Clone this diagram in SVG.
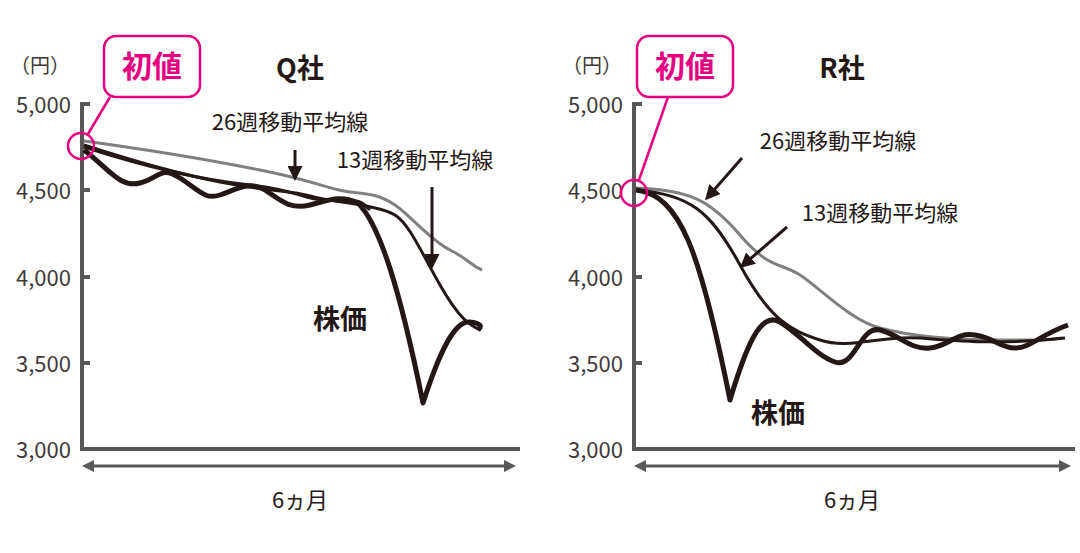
<svg xmlns="http://www.w3.org/2000/svg" width="1080" height="553" viewBox="0 0 1080 553">
<style>
text{font-family:"Noto Sans CJK JP","Noto Sans",sans-serif;fill:#231815}
.tick{font-size:22px;fill:#3e3a39;text-anchor:end}
.lbl{font-size:22px}
.big{font-size:27px;font-weight:bold}
.pk{font-size:30px;font-weight:bold;fill:#e4007f}
.axis{stroke:#595757;stroke-width:4;fill:none}
.g{stroke:#808080;stroke-width:3;fill:none}
.m{stroke:#231815;stroke-width:3;fill:none}
.p{stroke:#231815;stroke-width:5;fill:none;stroke-linejoin:round}
.pink{stroke:#e4007f;stroke-width:2.5;fill:none}
</style>
<defs>
<marker id="ah" viewBox="0 0 10 10" refX="8" refY="5" markerWidth="5" markerHeight="5" orient="auto"><path d="M0,0L10,5L0,10z" fill="#231815"/></marker>
<marker id="ga" viewBox="0 0 10 10" refX="5" refY="5" markerWidth="4" markerHeight="4" orient="auto-start-reverse"><path d="M0,0L10,5L0,10z" fill="#595757"/></marker>
</defs>
<g id="chartQ">
<text x="70" y="73" class="tick" style="font-size:20px">（円）</text>
<text x="71" y="113" class="tick">5,000</text>
<text x="71" y="199" class="tick">4,500</text>
<text x="71" y="286" class="tick">4,000</text>
<text x="71" y="372" class="tick">3,500</text>
<text x="71" y="458" class="tick">3,000</text>
<path class="axis" d="M90,104H82V449H520M82,190H90M82,277H90M82,363H90"/>
<path d="M88,466H510" stroke="#595757" stroke-width="3" marker-start="url(#ga)" marker-end="url(#ga)"/>
<text x="300" y="508" class="lbl" text-anchor="middle">6ヵ月</text>
<text x="300" y="78" class="big" text-anchor="middle">Q社</text>
<path class="g" d="M84,141C150,150 200,158 260,170S330,190 350,192S380,195 395,205S430,240 450,250S470,265 482,270"/>
<path class="m" d="M84,145C130,160 170,172 220,182S290,190 310,196S380,205 395,215S420,250 440,285S470,325 480,330"/>
<path class="m" d="M84,147C140,165 200,180 250,185S300,200 330,200S360,200 370,210"/>
<path class="p" d="M84,150C110,170 120,188 140,183S160,165 180,178S205,200 220,195S250,180 265,190S290,210 310,205S340,195 358,203C380,225 400,290 423,403C440,350 455,320 470,322S480,328 478,330"/>
<path d="M295,150V178" stroke="#231815" stroke-width="3" marker-end="url(#ah)"/>
<path d="M432,187V266" stroke="#231815" stroke-width="3" marker-end="url(#ah)"/>
<text x="290" y="130" class="lbl" text-anchor="middle">26週移動平均線</text>
<text x="415" y="168" class="lbl" text-anchor="middle">13週移動平均線</text>
<text x="340" y="329" class="big" text-anchor="middle">株価</text>
<rect x="104" y="36" width="96" height="61" rx="12" class="pink"/>
<text x="152" y="77" class="pk" text-anchor="middle">初値</text>
<circle cx="81" cy="146" r="13" class="pink"/>
<path d="M110,97L88,134" class="pink"/>
</g>
<g id="chartR">
<text x="622" y="73" class="tick" style="font-size:20px">（円）</text>
<text x="623" y="113" class="tick">5,000</text>
<text x="623" y="199" class="tick">4,500</text>
<text x="623" y="286" class="tick">4,000</text>
<text x="623" y="372" class="tick">3,500</text>
<text x="623" y="458" class="tick">3,000</text>
<path class="axis" d="M642,104H634V449H1075M634,190H642M634,277H642M634,363H642"/>
<path d="M640,466H1065" stroke="#595757" stroke-width="3" marker-start="url(#ga)" marker-end="url(#ga)"/>
<text x="852" y="508" class="lbl" text-anchor="middle">6ヵ月</text>
<text x="842" y="78" class="big" text-anchor="middle">R社</text>
<path class="g" d="M636,188C690,190 710,200 740,235S780,262 800,275S850,320 880,328S950,340 1000,340S1050,340 1062,338"/>
<path class="m" d="M636,190C690,195 710,210 740,265S790,330 820,340S880,335 920,338S1000,345 1065,338"/>
<path class="p" d="M636,190C680,195 700,250 730,400C745,350 760,310 780,322S815,355 835,362S860,325 880,330S910,350 930,348S955,332 975,335S1000,348 1015,348S1040,335 1068,325"/>
<path d="M742,158L707,198" stroke="#231815" stroke-width="3" marker-end="url(#ah)"/>
<path d="M787,227L742,266" stroke="#231815" stroke-width="3" marker-end="url(#ah)"/>
<text x="838" y="149" class="lbl" text-anchor="middle">26週移動平均線</text>
<text x="880" y="221" class="lbl" text-anchor="middle">13週移動平均線</text>
<text x="778" y="423" class="big" text-anchor="middle">株価</text>
<rect x="637" y="36" width="96" height="61" rx="12" class="pink"/>
<text x="685" y="77" class="pk" text-anchor="middle">初値</text>
<circle cx="634" cy="193" r="13" class="pink"/>
<path d="M668,97L639,180" class="pink"/>
</g>
</svg>
